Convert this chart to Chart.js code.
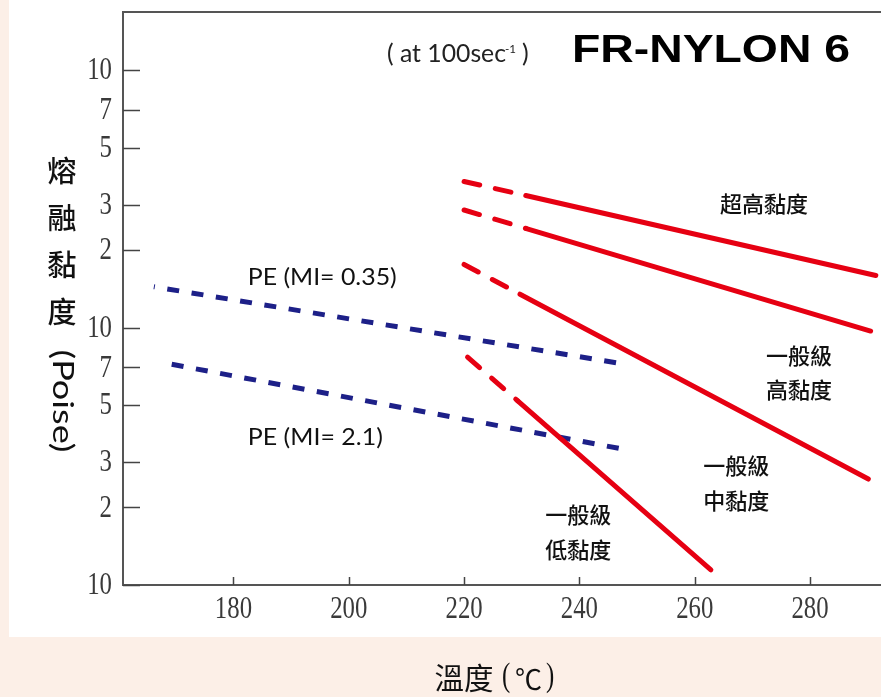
<!DOCTYPE html>
<html>
<head>
<meta charset="utf-8">
<script src="https://cdn.jsdelivr.net/npm/chart.js@4.4.1/dist/chart.umd.min.js"></script>
<style>
  html, body { margin: 0; padding: 0; background: #fcefe7; overflow: hidden; }
  canvas { display: block; }
</style>
</head>
<body>
<canvas id="c" width="881" height="697"></canvas>
<script>
// Axis ticks: temperature (°C) and melt viscosity (Poise, log scale)
const xTickValues = [180, 200, 220, 240, 260, 280];
const yTickValues = [1e3, 2e3, 3e3, 5e3, 7e3, 1e4, 2e4, 3e4, 5e4, 7e4, 1e5];
const yTickLabels = ['10', '2', '3', '5', '7', '10', '2', '3', '5', '7', '10'];

// FR-NYLON 6 grades; the first stretch of each curve is extrapolated (dashed)
const superHighTemp = [220, 230.7, 291.4];
const superHighVisc = [36900, 32550, 15920];
const highTemp = [220, 230.8, 290.5];
const highVisc = [28600, 24230, 9690];
const midTemp = [220, 229.7, 290.1];
const midVisc = [17570, 13470, 2580];
const lowTemp = [220.6, 229.3, 262.8];
const lowVisc = [7680, 5187, 1144];

// Polyethylene references
const pe035Temp = [166.2, 246.6];
const pe035Visc = [14400, 7280];
const pe21Temp = [169.3, 247.0];
const pe21Visc = [7195, 3389];

// Text placed in data space
const gradeNotes = [
  { lines: ['超高黏度'], x: 272.0, y: 30300 },
  { lines: ['一般級', '高黏度'], x: 278.1, y: 6690 },
  { lines: ['一般級', '中黏度'], x: 267.2, y: 2489 },
  { lines: ['一般級', '低黏度'], x: 239.8, y: 1606 }
];
const peNotes = [
  { text: 'PE (MI= 0.35)', x: 195.4, y: 15570, width: 149 },
  { text: 'PE (MI= 2.1)', x: 194.2, y: 3724, width: 135 }
];

const RED = '#e60012';
const NAVY = '#1d2088';
const CJK = '"Noto Sans CJK TC", "Noto Sans CJK JP", sans-serif';

function points(xs, ys) {
  return xs.map((x, i) => ({ x, y: ys[i] }));
}

function nylon(xs, ys) {
  return {
    data: points(xs, ys),
    borderColor: RED,
    borderWidth: 5,
    borderCapStyle: 'round',
    pointRadius: 0,
    tension: 0,
    segment: {
      borderDash: c => (c.p0DataIndex === 0 ? [16, 16] : undefined)
    }
  };
}

function pe(xs, ys, offset) {
  return {
    data: points(xs, ys),
    borderColor: NAVY,
    borderWidth: 5,
    borderCapStyle: 'butt',
    borderDash: [12, 12.6],
    borderDashOffset: offset,
    pointRadius: 0,
    tension: 0
  };
}

// Draw text, optionally squeezed/stretched horizontally to a given width
function drawText(ctx, text, x, y, font, opt) {
  opt = opt || {};
  ctx.save();
  ctx.font = font;
  ctx.fillStyle = opt.color || '#111';
  ctx.textBaseline = 'middle';
  let sx = opt.scaleX || 1;
  if (opt.width) sx = opt.width / ctx.measureText(text).width;
  ctx.translate(x, y);
  if (opt.rotate) ctx.rotate(opt.rotate);
  ctx.scale(sx, 1);
  ctx.textAlign = opt.align || 'center';
  ctx.fillText(text, 0, 0);
  ctx.restore();
}

const frame = {
  id: 'frame',
  beforeDraw(chart) {
    const ctx = chart.ctx;
    ctx.save();
    ctx.fillStyle = '#fcefe7';
    ctx.fillRect(0, 0, chart.width, chart.height);
    ctx.fillStyle = '#ffffff';
    ctx.fillRect(9, 0, chart.width - 9, 637);
    ctx.restore();
  },
  afterDraw(chart) {
    const ctx = chart.ctx;
    const a = chart.chartArea;
    const xs = chart.scales.x;
    const ys = chart.scales.y;

    // axes: left, top, bottom
    ctx.save();
    ctx.strokeStyle = '#555';
    ctx.lineWidth = 2;
    ctx.beginPath();
    ctx.moveTo(a.right, a.top);
    ctx.lineTo(a.left, a.top);
    ctx.lineTo(a.left, a.bottom);
    ctx.lineTo(a.right, a.bottom);
    ctx.stroke();

    // inward tick marks
    ctx.strokeStyle = '#444';
    ctx.lineWidth = 1.5;
    ctx.beginPath();
    yTickValues.forEach(v => {
      const py = Math.round(ys.getPixelForValue(v)) + 0.5;
      ctx.moveTo(a.left, py);
      ctx.lineTo(a.left + 17, py);
    });
    xTickValues.forEach(v => {
      const px = Math.round(xs.getPixelForValue(v)) + 0.5;
      ctx.moveTo(px, a.bottom);
      ctx.lineTo(px, a.bottom - 8);
    });
    ctx.stroke();
    ctx.restore();

    // tick labels
    const tickFont = '31px "Liberation Serif", serif';
    yTickValues.forEach((v, i) => {
      drawText(ctx, yTickLabels[i], 112, ys.getPixelForValue(v) + 1, tickFont,
        { align: 'right', scaleX: 0.8, color: '#3a3a3a' });
    });
    xTickValues.forEach(v => {
      drawText(ctx, String(v), xs.getPixelForValue(v), 610, tickFont,
        { scaleX: 0.8, color: '#3a3a3a' });
    });

    // axis titles
    ['熔', '融', '黏', '度'].forEach((ch, i) => {
      drawText(ctx, ch, 62, 171 + i * 47, '500 29px ' + CJK, { color: '#111' });
    });
    drawText(ctx, '(Poise)', 62, 401, '28px Lato, sans-serif',
      { rotate: Math.PI / 2, width: 103, color: '#111' });
    drawText(ctx, '溫度', 464, 678, '30px ' + CJK, { width: 59, color: '#111' });
    drawText(ctx, '(', 506, 677, '33px "Liberation Serif", serif', { scaleX: 0.75, color: '#111' });
    drawText(ctx, '℃', 528.5, 679, '28px ' + CJK, { width: 27, color: '#111' });
    drawText(ctx, ')', 550, 677, '33px "Liberation Serif", serif', { scaleX: 0.75, color: '#111' });

    // header
    drawText(ctx, '( at 100sec', 387, 54, '25px Lato, sans-serif',
      { align: 'left', width: 119, color: '#222' });
    drawText(ctx, '-1', 505, 49, '12px Lato, sans-serif',
      { align: 'left', width: 11, color: '#222' });
    drawText(ctx, ')', 522, 54, '25px Lato, sans-serif',
      { align: 'left', color: '#222' });
    drawText(ctx, 'FR-NYLON 6', 572, 52, 'bold 38px "Liberation Sans", Arial, sans-serif',
      { align: 'left', width: 278, color: '#000' });

    // curve labels
    peNotes.forEach(n => {
      drawText(ctx, n.text, xs.getPixelForValue(n.x), ys.getPixelForValue(n.y), '23px Lato, sans-serif',
        { width: n.width, color: '#111' });
    });
    gradeNotes.forEach(n => {
      const cx = xs.getPixelForValue(n.x);
      const cy = ys.getPixelForValue(n.y);
      const step = 34.5;
      n.lines.forEach((t, i) => {
        drawText(ctx, t, cx, cy + (i - (n.lines.length - 1) / 2) * step, '500 22px ' + CJK,
          { color: '#111' });
      });
    });
  }
};

new Chart(document.getElementById('c'), {
  type: 'line',
  data: {
    datasets: [
      nylon(superHighTemp, superHighVisc),
      nylon(highTemp, highVisc),
      nylon(midTemp, midVisc),
      nylon(lowTemp, lowVisc),
      pe(pe035Temp, pe035Visc, 11),
      pe(pe21Temp, pe21Visc, 0)
    ]
  },
  options: {
    responsive: false,
    animation: false,
    devicePixelRatio: 1,
    layout: { padding: { top: 12, left: 0, right: 0, bottom: 0 } },
    plugins: { legend: { display: false }, tooltip: { enabled: false } },
    scales: {
      x: {
        type: 'linear', min: 160.85, max: 292.3,
        grid: { display: false }, border: { display: false },
        ticks: { display: false },
        afterFit(s) { s.height = 112; s.paddingLeft = 0; s.paddingRight = 0; }
      },
      y: {
        type: 'logarithmic', min: 1000, max: 168000,
        grid: { display: false }, border: { display: false },
        ticks: { display: false },
        afterFit(s) { s.width = 123; s.paddingTop = 0; s.paddingBottom = 0; }
      }
    }
  },
  plugins: [frame]
});
</script>
</body>
</html>
